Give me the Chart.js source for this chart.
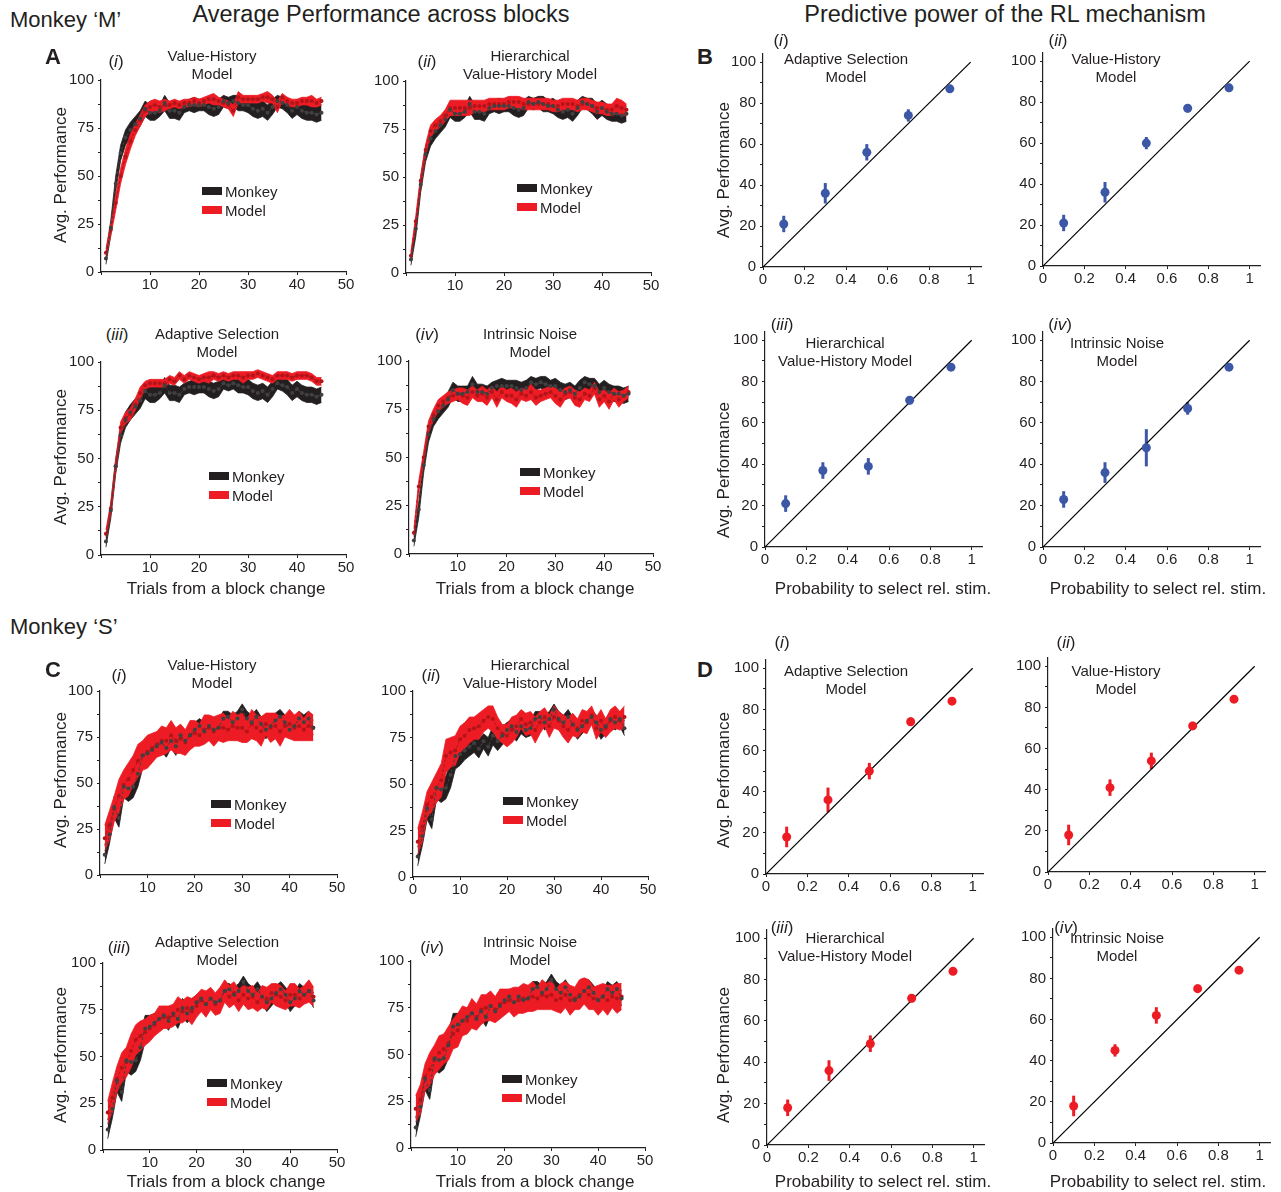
<!DOCTYPE html>
<html>
<head>
<meta charset="utf-8">
<script src="https://cdn.jsdelivr.net/npm/chart.js@4.4.0/dist/chart.umd.min.js"></script>
<style>
  body { margin: 0; width: 1281px; height: 1192px; background: #fff; position: relative; overflow: hidden;
         font-family: "Liberation Sans", Arial, sans-serif; color: #231f20; }
  canvas { position: absolute; }
  .t { position: absolute; white-space: nowrap; line-height: 1; }
  .sw { position: absolute; width: 20px; height: 8px; }
</style>
</head>
<body>
<script>
// ---- data ----
const trials = [1, 2, 3, 4, 5, 6, 7, 8, 9, 10, 11, 12, 13, 14, 15, 16, 17, 18, 19, 20, 21, 22, 23, 24, 25,
                26, 27, 28, 29, 30, 31, 32, 33, 34, 35, 36, 37, 38, 39, 40, 41, 42, 43, 44, 45];
const trialTicks = [0, 10, 20, 30, 40, 50];
const perfTickMarks = [0, 12.5, 25, 37.5, 50, 62.5, 75, 87.5, 100];
const perfLabels = [0, 25, 50, 75, 100];
const probTicks = [0, 0.2, 0.4, 0.6, 0.8, 1];
const pctTickMarks = [0, 10, 20, 30, 40, 50, 60, 70, 80, 90, 100];
const pctLabels = [0, 20, 40, 60, 80, 100];

// Monkey 'M' (panels A)
const monkeyM    = [7, 23, 46, 62, 70, 74, 77, 80, 85, 83, 83, 84, 88, 84, 84, 83, 86, 87, 87, 87, 87, 86, 85, 86, 89, 88, 89, 88, 87, 87, 85, 84, 85, 83, 86, 89, 88, 87, 84, 86, 84, 83, 83, 82, 83];
const monkeyMErr = [3, 4, 4, 4, 4, 4, 4, 4, 4, 4, 4, 3, 4, 4, 4, 4, 3, 3, 4, 3, 3, 4, 4, 4, 3, 3, 3, 4, 3, 4, 4, 4, 4, 4, 4, 3, 3, 4, 4, 4, 4, 4, 4, 4, 4];
const modelAi    = [10, 22, 36, 50, 60, 68, 74, 79, 84, 86, 87, 86, 87, 87, 88, 87, 88, 88, 89, 88, 89, 90, 90, 89, 88, 87, 84, 91, 90, 90, 90, 90, 91, 91, 90, 86, 91, 89, 88, 88, 89, 89, 89, 88, 89];
const modelAiErr = [2, 3, 4, 4, 4, 4, 3, 3, 3, 3, 3, 3, 3, 2, 2, 2, 2, 2, 2, 2, 2, 2, 3, 2, 2, 2, 3, 3, 2, 2, 2, 2, 2, 3, 2, 3, 2, 2, 2, 2, 2, 2, 3, 2, 2];
const modelAii    = [9, 27, 48, 64, 74, 77, 79, 82, 86, 86, 86, 86, 86, 87, 87, 87, 88, 88, 88, 88, 89, 89, 89, 88, 88, 88, 88, 88, 88, 87, 87, 88, 88, 88, 87, 88, 88, 87, 86, 86, 85, 85, 87, 86, 85];
const modelAiiErr = [2, 3, 3, 3, 3, 3, 3, 3, 4, 4, 4, 4, 4, 3, 3, 3, 3, 3, 3, 3, 3, 3, 3, 3, 3, 3, 3, 3, 3, 3, 3, 3, 3, 3, 3, 3, 3, 3, 3, 3, 3, 3, 4, 4, 3];
const modelAiii    = [11, 24, 46, 66, 71, 73, 78, 84, 88, 89, 89, 89, 89, 91, 90, 93, 91, 93, 92, 91, 92, 92, 93, 92, 93, 92, 93, 93, 92, 93, 93, 94, 93, 92, 91, 93, 93, 93, 92, 93, 93, 93, 92, 90, 90];
const modelAiiiErr = [2, 3, 3, 3, 3, 3, 3, 3, 2, 2, 2, 2, 2, 2, 2, 2, 2, 2, 2, 2, 2, 3, 2, 2, 2, 2, 2, 2, 3, 2, 2, 2, 2, 2, 2, 2, 2, 2, 2, 2, 2, 2, 2, 2, 2];
const modelAiv    = [11, 35, 50, 66, 72, 77, 79, 81, 82, 83, 82, 81, 84, 82, 83, 81, 84, 80, 84, 82, 82, 80, 83, 82, 84, 81, 82, 83, 84, 82, 80, 83, 84, 81, 80, 83, 82, 86, 80, 82, 79, 83, 80, 82, 84];
const modelAivErr = [2, 3, 3, 3, 3, 3, 3, 3, 3, 3, 4, 4, 3, 3, 4, 4, 3, 4, 3, 3, 4, 4, 3, 3, 4, 4, 3, 3, 3, 4, 4, 3, 3, 4, 4, 3, 3, 3, 4, 3, 4, 3, 4, 3, 3];

// Monkey 'S' (panels C)
const monkeyS    = [11, 22, 37, 31, 48, 47, 48, 55, 65, 66, 68, 70, 72, 69, 73, 70, 76, 73, 76, 79, 81, 78, 81, 79, 80, 85, 86, 83, 85, 90, 85, 83, 86, 82, 79, 81, 84, 86, 83, 79, 81, 85, 83, 85, 80];
const monkeySErr = [5, 5, 6, 5, 6, 7, 6, 7, 7, 6, 5, 5, 5, 5, 4, 5, 5, 5, 5, 4, 4, 5, 4, 4, 4, 4, 3, 4, 4, 3, 4, 4, 4, 4, 5, 4, 4, 4, 4, 5, 4, 4, 4, 4, 4];
const modelCi    = [20, 27, 36, 43, 49, 52, 57, 62, 65, 67, 69, 71, 73, 73, 76, 73, 74, 72, 76, 77, 76, 79, 80, 78, 80, 80, 79, 81, 80, 80, 78, 82, 80, 78, 82, 80, 81, 78, 81, 82, 80, 81, 79, 81, 80];
const modelCiErr = [7, 8, 7, 9, 8, 9, 8, 9, 8, 9, 8, 7, 8, 7, 8, 7, 8, 7, 8, 7, 6, 8, 7, 8, 7, 8, 6, 8, 7, 8, 6, 8, 7, 8, 6, 8, 7, 8, 6, 8, 7, 8, 6, 8, 7];
const modelCii    = [19, 27, 39, 43, 48, 52, 65, 67, 68, 74, 76, 79, 80, 81, 84, 86, 85, 80, 77, 76, 79, 81, 85, 82, 83, 79, 83, 86, 81, 86, 84, 81, 79, 82, 80, 84, 83, 87, 80, 84, 80, 84, 86, 84, 86];
const modelCiiErr = [7, 8, 7, 8, 8, 9, 9, 8, 8, 7, 7, 7, 6, 7, 6, 6, 7, 6, 5, 6, 7, 6, 5, 6, 6, 7, 6, 5, 6, 6, 5, 6, 7, 6, 5, 6, 6, 5, 6, 6, 5, 6, 6, 5, 6];
const modelCiii    = [20, 28, 38, 44, 47, 53, 59, 61, 63, 65, 67, 70, 71, 71, 72, 75, 74, 76, 74, 77, 80, 78, 81, 78, 80, 85, 82, 84, 80, 83, 81, 82, 79, 82, 81, 84, 83, 82, 80, 83, 83, 81, 83, 85, 82];
const modelCiiiErr = [6, 8, 7, 8, 8, 9, 8, 8, 7, 7, 6, 7, 6, 6, 6, 7, 6, 6, 7, 6, 6, 7, 6, 6, 7, 6, 6, 6, 6, 5, 6, 6, 5, 6, 6, 5, 6, 6, 5, 6, 6, 5, 5, 6, 5];
const modelCiv    = [21, 26, 38, 42, 47, 51, 53, 56, 61, 63, 68, 68, 72, 70, 74, 75, 76, 74, 77, 78, 79, 78, 79, 80, 80, 81, 80, 82, 81, 82, 79, 80, 82, 79, 80, 82, 84, 82, 80, 79, 81, 79, 81, 80, 81];
const modelCivErr = [7, 8, 7, 9, 8, 9, 8, 9, 8, 9, 8, 7, 8, 7, 8, 7, 8, 7, 8, 7, 6, 8, 7, 8, 7, 8, 6, 8, 7, 8, 6, 8, 7, 8, 6, 8, 7, 8, 6, 8, 7, 8, 6, 8, 7];

// Predictive power (panels B: monkey M, panels D: monkey S)
const probs = [0.1, 0.3, 0.5, 0.7, 0.9];
const probsBiii = [0.1, 0.28, 0.5, 0.7, 0.9];
const perfBi = [21, 36, 56, 74, 87],   errBi = [4, 5, 4, 3, 1];
const perfBii = [21, 36, 60, 77, 87],  errBii = [4, 5, 3, 2, 1];
const perfBiii = [21, 37, 39, 71, 87], errBiii = [4, 4, 4, 2, 1];
const perfBiv = [23, 36, 48, 67, 87],  errBiv = [4, 5, 9, 3, 1];
const perfDi = [18, 36, 50, 74, 84],   errDi = [5, 6, 4, 2, 1];
const perfDii = [18, 41, 54, 71, 84],  errDii = [5, 4, 4, 2, 1];
const perfDiii = [18, 36, 49, 71, 84], errDiii = [4, 5, 4, 2, 1];
const perfDiv = [18, 45, 62, 75, 84],  errDiv = [5, 3, 4, 2, 1];

// ---- styling ----
const INK = '#231f20';
const RED = '#ed1c24';
const DARKRED = '#b3141a';
const BLUE = '#3b57a6';
const FONT = '"Liberation Sans", Arial, sans-serif';
const AXW = 45, AXH = 26, PADT = 12, PADR = 20;

function addText(txt, x, y, o = {}) {
    const d = document.createElement('div');
    d.className = 't';
    d.innerHTML = txt;
    d.style.left = x + 'px';
    d.style.top = y + 'px';
    d.style.fontSize = (o.size || 15) + 'px';
    if (o.bold) d.style.fontWeight = 'bold';
    let tf = o.align === 'left' ? 'translate(0,-50%)' : 'translate(-50%,-50%)';
    if (o.rotate) tf += ' rotate(-90deg)';
    d.style.transform = tf;
    if (o.center) d.style.textAlign = 'center';
    if (o.lh) d.style.lineHeight = o.lh + 'px';
    document.body.appendChild(d);
}

function addSwatch(x, y, color) {
    const s = document.createElement('div');
    s.className = 'sw';
    s.style.left = x + 'px';
    s.style.top = (y - 4) + 'px';
    s.style.background = color;
    document.body.appendChild(s);
}

function makeCanvas(left, top, w, h) {
    const c = document.createElement('canvas');
    c.width = Math.round(w) + AXW + PADR;
    c.height = Math.round(h) + PADT + AXH;
    c.style.left = (Math.round(left) - AXW) + 'px';
    c.style.top = (Math.round(top) - PADT) + 'px';
    document.body.appendChild(c);
    return c;
}

function axis(min, max, marks, labelFn, isX) {
    return {
        type: 'linear', min, max,
        grid: { display: true, drawOnChartArea: false, drawTicks: true, tickLength: 3, color: INK, lineWidth: 1 },
        border: { display: true, color: INK, width: 1.2 },
        ticks: { font: { family: FONT, size: 15 }, color: INK, padding: isX ? 1 : 4, autoSkip: false, maxRotation: 0, callback: labelFn },
        afterBuildTicks: s => { s.ticks = marks.map(v => ({ value: v })); },
        afterFit: s => { if (isX) s.height = AXH; else s.width = AXW; }
    };
}

const baseOpts = {
    responsive: false, animation: false, devicePixelRatio: 1,
    layout: { padding: { top: PADT, right: PADR, left: 0, bottom: 0 } },
    plugins: { legend: { display: false }, tooltip: { enabled: false } }
};

function band(mean, err, color, order) {
    return [
        { data: trials.map((t, i) => ({ x: t, y: mean[i] + err[i] })), borderColor: color, borderWidth: 0.8,
          pointRadius: 0, fill: false, tension: 0, order },
        { data: trials.map((t, i) => ({ x: t, y: mean[i] - err[i] })), borderColor: color, borderWidth: 0.8,
          pointRadius: 0, fill: '-1', backgroundColor: color, tension: 0, order }
    ];
}

function meanLine(mean, color, order) {
    return { data: trials.map((t, i) => ({ x: t, y: mean[i] })), borderColor: color, borderWidth: 1,
             borderDash: [3, 2], pointRadius: 2, pointBackgroundColor: color, pointBorderWidth: 0, tension: 0, order };
}

// Line panel: p.x0/x50 = pixel of trial 0/50, p.y100/y0 = pixel of 100/0
function linePanel(p) {
    const c = makeCanvas(p.x0, p.y100, p.x50 - p.x0, p.y0 - p.y100);
    new Chart(c, {
        type: 'line',
        data: {
            datasets: [
                ...band(p.monkey, p.monkeyErr, INK, 4),
                ...band(p.model, p.modelErr, RED, 3),
                meanLine(p.monkey, '#404040', 1),
                meanLine(p.model, DARKRED, 2)
            ]
        },
        options: {
            ...baseOpts,
            scales: {
                x: axis(0, 50, trialTicks, v => (v === 0 && !p.showX0) ? '' : String(v), true),
                y: axis(0, 100, perfTickMarks, v => perfLabels.includes(v) ? String(v) : '', false)
            }
        }
    });
}

// Scatter panel: p.x0/x1 = pixel of prob 0/1, p.y100/y0 = pixel of 100/0
function scatterPanel(p) {
    const w = (p.x1 - p.x0) * 1.05, h = (p.y0 - p.y100) * 1.04;
    const c = makeCanvas(p.x0, p.y0 - h, w, h);
    const errorBars = {
        id: 'errorBars',
        beforeDatasetsDraw(chart) {
            const { ctx, scales: { x, y } } = chart;
            ctx.save();
            ctx.strokeStyle = p.color;
            ctx.lineWidth = 3;
            p.xs.forEach((v, i) => {
                const px = x.getPixelForValue(v);
                ctx.beginPath();
                ctx.moveTo(px, y.getPixelForValue(p.ys[i] - p.errs[i]));
                ctx.lineTo(px, y.getPixelForValue(p.ys[i] + p.errs[i]));
                ctx.stroke();
            });
            ctx.restore();
        }
    };
    new Chart(c, {
        type: 'scatter',
        data: {
            datasets: [
                { data: p.xs.map((v, i) => ({ x: v, y: p.ys[i] })), pointRadius: 4.5, backgroundColor: p.color,
                  borderWidth: 0, order: 0 },
                { type: 'line', data: [{ x: 0, y: 0 }, { x: 1, y: 100 }], borderColor: '#000', borderWidth: 1.2,
                  pointRadius: 0, fill: false, order: 1 }
            ]
        },
        options: {
            ...baseOpts,
            scales: {
                x: axis(0, 1.05, probTicks, v => String(v), true),
                y: axis(0, 104, pctTickMarks, v => pctLabels.includes(v) ? String(v) : '', false)
            }
        },
        plugins: [errorBars]
    });
}

// ---- panels A ----
linePanel({ x0: 101, x50: 346, y100: 79, y0: 272, monkey: monkeyM, monkeyErr: monkeyMErr, model: modelAi, modelErr: modelAiErr });
linePanel({ x0: 406, x50: 651, y100: 80, y0: 273, monkey: monkeyM, monkeyErr: monkeyMErr, model: modelAii, modelErr: modelAiiErr });
linePanel({ x0: 101, x50: 346, y100: 361, y0: 555, monkey: monkeyM, monkeyErr: monkeyMErr, model: modelAiii, modelErr: modelAiiiErr });
linePanel({ x0: 409, x50: 653, y100: 360, y0: 554, monkey: monkeyM, monkeyErr: monkeyMErr, model: modelAiv, modelErr: modelAivErr });

// ---- panels C ----
linePanel({ x0: 100, x50: 337, y100: 690, y0: 875, monkey: monkeyS, monkeyErr: monkeySErr, model: modelCi, modelErr: modelCiErr });
linePanel({ x0: 413, x50: 648, y100: 690, y0: 877, monkey: monkeyS, monkeyErr: monkeySErr, model: modelCii, modelErr: modelCiiErr, showX0: true });
linePanel({ x0: 103, x50: 337, y100: 962, y0: 1150, monkey: monkeyS, monkeyErr: monkeySErr, model: modelCiii, modelErr: modelCiiiErr });
linePanel({ x0: 411, x50: 645, y100: 960, y0: 1148, monkey: monkeyS, monkeyErr: monkeySErr, model: modelCiv, modelErr: modelCivErr });

// ---- panels B ----
scatterPanel({ x0: 763, x1: 971, y100: 61, y0: 267, xs: probs, ys: perfBi, errs: errBi, color: BLUE });
scatterPanel({ x0: 1043, x1: 1250, y100: 60, y0: 266, xs: probs, ys: perfBii, errs: errBii, color: BLUE });
scatterPanel({ x0: 765, x1: 972, y100: 339, y0: 547, xs: probsBiii, ys: perfBiii, errs: errBiii, color: BLUE });
scatterPanel({ x0: 1043, x1: 1250, y100: 339, y0: 547, xs: probs, ys: perfBiv, errs: errBiv, color: BLUE });

// ---- panels D ----
scatterPanel({ x0: 766, x1: 973, y100: 667, y0: 874, xs: probs, ys: perfDi, errs: errDi, color: RED });
scatterPanel({ x0: 1048, x1: 1255, y100: 665, y0: 872, xs: probs, ys: perfDii, errs: errDii, color: RED });
scatterPanel({ x0: 767, x1: 974, y100: 937, y0: 1145, xs: probs, ys: perfDiii, errs: errDiii, color: RED });
scatterPanel({ x0: 1053, x1: 1260, y100: 936, y0: 1143, xs: probs, ys: perfDiv, errs: errDiv, color: RED });

// ---- headings ----
addText('Monkey ‘M’', 10, 20, { size: 22, align: 'left' });
addText('Monkey ‘S’', 10, 627, { size: 22, align: 'left' });
addText('Average Performance across blocks', 381, 15, { size: 23.5 });
addText('Predictive power of the RL mechanism', 1005, 15, { size: 23.5 });
addText('A', 53, 57, { size: 22, bold: true });
addText('B', 705, 57, { size: 22, bold: true });
addText('C', 53, 670, { size: 22, bold: true });
addText('D', 705, 670, { size: 22, bold: true });

// panel sub-titles
const subs = [
    ['(<i>i</i>)', 116, 61, 'Value-History<br>Model', 212, 65],
    ['(<i>ii</i>)', 427, 61, 'Hierarchical<br>Value-History Model', 530, 65],
    ['(<i>iii</i>)', 117, 334, 'Adaptive Selection<br>Model', 217, 343],
    ['(<i>iv</i>)', 427, 334, 'Intrinsic Noise<br>Model', 530, 343],
    ['(<i>i</i>)', 781, 40, 'Adaptive Selection<br>Model', 846, 68],
    ['(<i>ii</i>)', 1058, 40, 'Value-History<br>Model', 1116, 68],
    ['(<i>iii</i>)', 782, 324, 'Hierarchical<br>Value-History Model', 845, 352],
    ['(<i>iv</i>)', 1060, 324, 'Intrinsic Noise<br>Model', 1117, 352],
    ['(<i>i</i>)', 119, 675, 'Value-History<br>Model', 212, 674],
    ['(<i>ii</i>)', 431, 675, 'Hierarchical<br>Value-History Model', 530, 674],
    ['(<i>iii</i>)', 119, 947, 'Adaptive Selection<br>Model', 217, 951],
    ['(<i>iv</i>)', 432, 947, 'Intrinsic Noise<br>Model', 530, 951],
    ['(<i>i</i>)', 782, 642, 'Adaptive Selection<br>Model', 846, 680],
    ['(<i>ii</i>)', 1066, 642, 'Value-History<br>Model', 1116, 680],
    ['(<i>iii</i>)', 782, 927, 'Hierarchical<br>Value-History Model', 845, 947],
    ['(<i>iv</i>)', 1066, 927, 'Intrinsic Noise<br>Model', 1117, 947]
];
subs.forEach(s => {
    addText(s[0], s[1], s[2], { size: 17 });
    addText(s[3], s[4], s[5], { size: 15, center: true, lh: 18 });
});

// legends
const legends = [[202, 191], [517, 188], [209, 476], [520, 472], [211, 804], [503, 801], [207, 1083], [502, 1079]];
legends.forEach(([x, y]) => {
    addSwatch(x, y, INK);
    addSwatch(x, y + 19, RED);
    addText('Monkey', x + 23, y, { size: 15, align: 'left' });
    addText('Model', x + 23, y + 19, { size: 15, align: 'left' });
});

// axis titles
[[60, 175], [60, 457], [60, 780], [60, 1055], [723, 170], [723, 470], [723, 780], [723, 1055]].forEach(([x, y]) =>
    addText('Avg. Performance', x, y, { size: 17, rotate: true }));
[[226, 588], [535, 588], [226, 1181], [535, 1181]].forEach(([x, y]) =>
    addText('Trials from a block change', x, y, { size: 17 }));
[[883, 588], [1158, 588], [883, 1181], [1158, 1181]].forEach(([x, y]) =>
    addText('Probability to select rel. stim.', x, y, { size: 17 }));
</script>
</body>
</html>
